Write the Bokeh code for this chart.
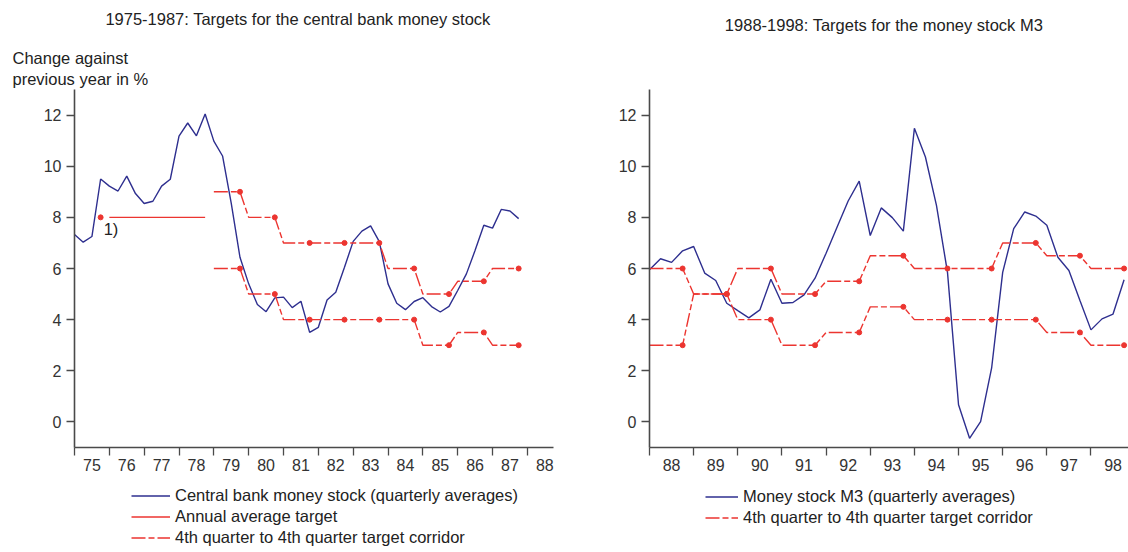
from bokeh.plotting import figure
from bokeh.models import Range1d, FixedTicker, Legend, LegendItem, Label
from bokeh.layouts import row
from bokeh.embed import file_html
from bokeh.resources import INLINE

FONT = "Liberation Sans"
BLUE = "#2e2f8f"
RED = "#ec3530"
AXIS = "#4a4a4a"
TXT = "#222222"
TXT_SIZE = "16.5px"
DASH = "14 3 6 3"

# ---------------- data: left panel (1975-1987) ----------------
cbm_first_year = 75
cbm_growth = [
    7.33, 7.03, 7.25, 9.50,
    9.22, 9.03, 9.61, 8.93,
    8.54, 8.63, 9.22, 9.49,
    11.18, 11.69, 11.19, 12.04,
    10.98, 10.40, 8.55, 6.44,
    5.40, 4.59, 4.31, 4.85,
    4.88, 4.47, 4.72, 3.50,
    3.70, 4.77, 5.07, 6.05,
    7.06, 7.46, 7.67, 7.05,
    5.40, 4.64, 4.39, 4.71,
    4.86, 4.51, 4.30, 4.52,
    5.14, 5.79, 6.71, 7.69,
    7.58, 8.31, 8.25, 7.95,
]
target_1975_year = [75]
target_1975_value = [8]
annual_target_years = [76, 77, 78]
annual_target_values = [8, 8, 8]
left_corr_years = [79, 80, 81, 82, 83, 84, 85, 86, 87]
left_corr_lower = [6, 5, 4, 4, 4, 4, 3, 3.5, 3]
left_corr_upper = [9, 8, 7, 7, 7, 6, 5, 5.5, 6]
left_years = list(range(75, 89))
left_year_labels = [str(y) for y in left_years]

# ---------------- data: right panel (1988-1998) ----------------
m3_first_year = 88
m3_growth = [
    5.95, 6.38, 6.24, 6.69,
    6.86, 5.82, 5.53, 4.64,
    4.35, 4.07, 4.38, 5.58,
    4.64, 4.67, 4.97, 5.62,
    6.60, 7.62, 8.64, 9.42,
    7.29, 8.37, 7.99, 7.46,
    11.48, 10.36, 8.47, 5.85,
    0.67, -0.64, 0.01, 2.11,
    5.85, 7.56, 8.21, 8.05,
    7.69, 6.44, 5.92, 4.75,
    3.60, 4.03, 4.22, 5.56,
]
right_corr_years = [88, 89, 90, 91, 92, 93, 94, 95, 96, 97, 98]
right_corr_lower = [3, 5, 4, 3, 3.5, 4.5, 4, 4, 4, 3.5, 3]
right_corr_upper = [6, 5, 6, 5, 5.5, 6.5, 6, 6, 7, 6.5, 6]
right_years = list(range(88, 99))
right_year_labels = [str(y) for y in right_years]

y_ticks = [0, 2, 4, 6, 8, 10, 12]
y_lo, y_hi = -1, 13

# ---------------- layout (pixels) ----------------
H = 552
AX_TOP, AX_BOTTOM = 89, 447          # y-axis extent on the page
PX_Y = (AX_BOTTOM - AX_TOP) / (y_hi - y_lo)
Y_RANGE = (y_lo - (H - AX_BOTTOM) / PX_Y, y_hi + AX_TOP / PX_Y)


def x_range_for(width, axis_left, axis_px, x0, x1):
    px = axis_px / (x1 - x0)
    return Range1d(x0 - axis_left / px, x0 + (width - axis_left) / px)


def quarterly_x(first_year, n):
    return [first_year + i / 4 for i in range(n)]


def step_path(years, vals):
    xs, ys = [], []
    for y, v in zip(years, vals):
        xs += [y, y + 0.75]
        ys += [v, v]
    return xs, ys


def make_fig(width, axis_left, axis_px, x0, x1, years, labels):
    p = figure(width=width, height=H, output_backend="svg", toolbar_location=None,
               x_range=x_range_for(width, axis_left, axis_px, x0, x1),
               y_range=Range1d(*Y_RANGE), min_border=0)
    p.xaxis.fixed_location = y_lo
    p.xaxis.bounds = (x0, x1)
    p.yaxis.fixed_location = x0
    p.yaxis.bounds = (y_lo, y_hi)
    p.xaxis.ticker = FixedTicker(ticks=[y + 0.5 for y in years], minor_ticks=years)
    p.xaxis.major_label_overrides = {y + 0.5: lab for y, lab in zip(years, labels)}
    p.xaxis.major_tick_line_color = None
    p.xaxis.major_tick_out = 8
    p.xaxis.major_tick_in = 0
    p.xaxis.minor_tick_line_color = AXIS
    p.xaxis.minor_tick_line_width = 1.3
    p.xaxis.minor_tick_out = 8
    p.xaxis.minor_tick_in = 0
    p.xaxis.major_label_standoff = 3
    p.yaxis.ticker = FixedTicker(ticks=y_ticks, minor_ticks=[])
    p.yaxis.major_tick_out = 8
    p.yaxis.major_tick_in = 0
    p.yaxis.major_tick_line_color = AXIS
    p.yaxis.major_tick_line_width = 1.3
    p.yaxis.major_label_standoff = 5
    for ax in (p.xaxis, p.yaxis):
        ax.axis_line_color = AXIS
        ax.axis_line_width = 1.6
        ax.major_label_text_font = FONT
        ax.major_label_text_font_size = "16px"
        ax.major_label_text_color = "#333333"
    p.xgrid.visible = False
    p.ygrid.visible = False
    p.outline_line_color = None
    return p


def add_text(p, text, x, page_y, align="left"):
    p.add_layout(Label(x=x, y=H - page_y, x_units="screen", y_units="screen", text=text,
                       text_font=FONT, text_font_size=TXT_SIZE, text_color=TXT,
                       text_align=align, text_baseline="middle"))


def style_legend(leg, gw):
    leg.label_text_font = FONT
    leg.label_text_font_size = TXT_SIZE
    leg.label_text_color = TXT
    leg.glyph_width = gw
    leg.glyph_height = 21
    leg.label_height = 21
    leg.label_standoff = 5
    leg.spacing = 0
    leg.padding = 0
    leg.margin = 0
    leg.border_line_color = None
    leg.background_fill_alpha = 0


# ---------------- left figure ----------------
pl = make_fig(574, 74, 479, 75, 88.75, left_years, left_year_labels)

r_cbm = pl.line(quarterly_x(cbm_first_year, len(cbm_growth)), cbm_growth,
                line_color=BLUE, line_width=1.4)
ax_x, ax_y = step_path(annual_target_years, annual_target_values)
r_ann = pl.line(ax_x, ax_y, line_color=RED, line_width=1.4)
pl.scatter([y + 0.75 for y in target_1975_year], target_1975_value, size=5,
           color=RED, line_color=RED)
ux, uy = step_path(left_corr_years, left_corr_upper)
lx, ly = step_path(left_corr_years, left_corr_lower)
r_corr_l = pl.line(ux, uy, line_color=RED, line_width=1.4, line_dash=DASH)
pl.line(lx, ly, line_color=RED, line_width=1.4, line_dash=DASH)
dots_x = [y + 0.75 for y in left_corr_years]
pl.scatter(dots_x, left_corr_upper, size=5, color=RED)
pl.scatter(dots_x, left_corr_lower, size=5, color=RED)

pl.add_layout(Label(x=target_1975_year[0] + 0.75, y=target_1975_value[0], x_offset=3, y_offset=-12,
                    text="1)", text_font=FONT, text_font_size=TXT_SIZE, text_color=TXT,
                    text_align="left", text_baseline="middle"))

add_text(pl, "1975-1987: Targets for the central bank money stock", 297.5, 18, "center")
add_text(pl, "Change against", 12, 57)
add_text(pl, "previous year in %", 12, 78)

leg_l = Legend(items=[
    LegendItem(label="Central bank money stock (quarterly averages)", renderers=[r_cbm]),
    LegendItem(label="Annual average target", renderers=[r_ann]),
    LegendItem(label="4th quarter to 4th quarter target corridor", renderers=[r_corr_l]),
], location=(131, 4), orientation="vertical")
style_legend(leg_l, 39)
pl.add_layout(leg_l, "center")

# ---------------- right figure ----------------
pr = make_fig(554, 75, 479, 88, 98.85, right_years, right_year_labels)

r_m3 = pr.line(quarterly_x(m3_first_year, len(m3_growth)), m3_growth,
               line_color=BLUE, line_width=1.4)
ux, uy = step_path(right_corr_years, right_corr_upper)
lx, ly = step_path(right_corr_years, right_corr_lower)
r_corr_r = pr.line(ux, uy, line_color=RED, line_width=1.4, line_dash=DASH)
pr.line(lx, ly, line_color=RED, line_width=1.4, line_dash=DASH)
dots_x = [y + 0.75 for y in right_corr_years]
pr.scatter(dots_x, right_corr_upper, size=5, color=RED)
pr.scatter(dots_x, right_corr_lower, size=5, color=RED)

add_text(pr, "1988-1998: Targets for the money stock M3", 309.5, 24, "center")

leg_r = Legend(items=[
    LegendItem(label="Money stock M3 (quarterly averages)", renderers=[r_m3]),
    LegendItem(label="4th quarter to 4th quarter target corridor", renderers=[r_corr_r]),
], location=(131, 24.5), orientation="vertical")
style_legend(leg_r, 33)
pr.add_layout(leg_r, "center")

layout = row(pl, pr)
open("out.html", "w").write(file_html(layout, INLINE))
